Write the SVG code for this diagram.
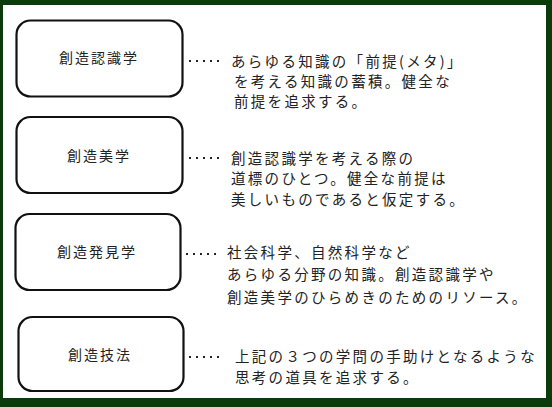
<svg xmlns="http://www.w3.org/2000/svg" width="552" height="407" viewBox="0 0 552 407">
<style>
.box{fill:#fff;stroke:#111;stroke-width:2.2}
.lbl{font-family:"Noto Sans CJK JP","Noto Sans",sans-serif;font-size:14px;fill:#222;text-anchor:middle;dominant-baseline:central;letter-spacing:2px}
.txt{font-family:"Noto Sans CJK JP","Noto Sans",sans-serif;font-size:14.5px;fill:#222;dominant-baseline:central;letter-spacing:2.3px}
.dot{stroke:#222;stroke-width:2;stroke-dasharray:2 5;fill:none}
</style>
<rect x="0" y="0" width="552" height="407" fill="#0b3a0b"/>
<rect x="3" y="5" width="543" height="393" fill="#fff"/>
<g id="node1">
<rect class="box" x="16.5" y="20.5" width="166" height="76" rx="14"/>
<text class="lbl" x="99" y="57">創造認識学</text>
</g>
<g id="node2">
<rect class="box" x="16.5" y="117" width="166" height="76" rx="14"/>
<text class="lbl" x="99" y="155">創造美学</text>
</g>
<g id="node3">
<rect class="box" x="15.5" y="214" width="165" height="76" rx="14"/>
<text class="lbl" x="97" y="251">創造発見学</text>
</g>
<g id="node4">
<rect class="box" x="18.5" y="317" width="165" height="74" rx="14"/>
<text class="lbl" x="100" y="354">創造技法</text>
</g>
<g id="connectors">
<line class="dot" x1="189" y1="61" x2="224" y2="61"/>
<line class="dot" x1="189" y1="158" x2="224" y2="158"/>
<line class="dot" x1="186" y1="254" x2="221" y2="254"/>
<line class="dot" x1="189" y1="357" x2="224" y2="357"/>
</g>
<g id="desc1">
<text class="txt" x="231" y="60">あらゆる知識の「前提(メタ)」</text>
<text class="txt" x="234" y="80">を考える知識の蓄積。健全な</text>
<text class="txt" x="234" y="100">前提を追求する。</text>
</g>
<g id="desc2">
<text class="txt" x="231" y="157">創造認識学を考える際の</text>
<text class="txt" x="231" y="177">道標のひとつ。健全な前提は</text>
<text class="txt" x="231" y="198">美しいものであると仮定する。</text>
</g>
<g id="desc3">
<text class="txt" x="227" y="251">社会科学、自然科学など</text>
<text class="txt" x="227" y="273">あらゆる分野の知識。創造認識学や</text>
<text class="txt" x="227" y="296">創造美学のひらめきのためのリソース。</text>
</g>
<g id="desc4">
<text class="txt" x="235" y="355">上記の３つの学問の手助けとなるような</text>
<text class="txt" x="235" y="376">思考の道具を追求する。</text>
</g>
</svg>
